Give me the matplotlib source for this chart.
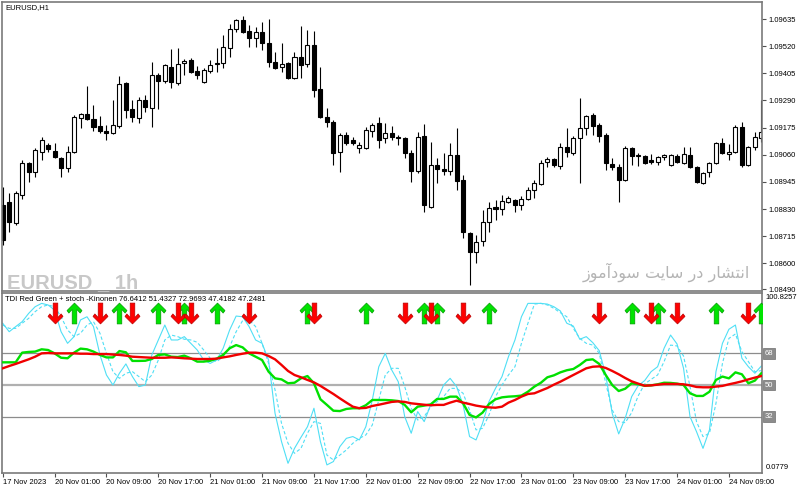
# plot.py - EURUSD H1 candles + TDI / stoch panel (MT4 style)

import matplotlib
matplotlib.use("Agg")
import numpy as np
import matplotlib.pyplot as plt
from matplotlib.path import Path


plt.rcParams["font.family"] = ["Liberation Sans", "DejaVu Sans"]


# =====================================
# DATA
# =====================================

open_px = [
    1.08847, 1.08860, 1.08771, 1.08889, 1.09025, 1.08987, 1.09071, 1.09101, 1.09076, 1.09046,
    1.09004, 1.09071, 1.09216, 1.09232, 1.09211, 1.09182, 1.09160, 1.09152, 1.09182, 1.09364,
    1.09254, 1.09216, 1.09292, 1.09258, 1.09398, 1.09372, 1.09432, 1.09364, 1.09449, 1.09461,
    1.09415, 1.09368, 1.09415, 1.09444, 1.09449, 1.09512, 1.09593, 1.09631, 1.09584, 1.09555,
    1.09580, 1.09533, 1.09453, 1.09432, 1.09449, 1.09385, 1.09474, 1.09444, 1.09525, 1.09338,
    1.09220, 1.09199, 1.09071, 1.09143, 1.09122, 1.09088, 1.09088, 1.09160, 1.09194, 1.09131,
    1.09152, 1.09135, 1.09131, 1.09067, 1.08991, 1.09139, 1.08838, 1.09016, 1.09000, 1.08991,
    1.09059, 1.08953, 1.08728, 1.08648, 1.08694, 1.08775, 1.08838, 1.08830, 1.08860, 1.08868,
    1.08847, 1.08872, 1.08910, 1.08936, 1.09029, 1.09042, 1.09012, 1.09093, 1.09067, 1.09131,
    1.09173, 1.09228, 1.09186, 1.09143, 1.09021, 1.09008, 1.08953, 1.09088, 1.09055, 1.09055,
    1.09038, 1.09029, 1.09050, 1.09016, 1.09055, 1.09025, 1.09059, 1.09008, 1.08940, 1.08987,
    1.09025, 1.09110, 1.09063, 1.09071, 1.09177, 1.09016, 1.09093, 1.09131,
]

high_px = [
    1.08923, 1.08898, 1.08906, 1.09038, 1.09029, 1.09088, 1.09135, 1.09110, 1.09110, 1.09050,
    1.09097, 1.09228, 1.09237, 1.09351, 1.09271, 1.09224, 1.09186, 1.09292, 1.09393, 1.09368,
    1.09292, 1.09305, 1.09313, 1.09453, 1.09406, 1.09444, 1.09508, 1.09512, 1.09465, 1.09470,
    1.09436, 1.09427, 1.09461, 1.09512, 1.09567, 1.09614, 1.09635, 1.09648, 1.09610, 1.09601,
    1.09622, 1.09635, 1.09495, 1.09533, 1.09453, 1.09495, 1.09605, 1.09588, 1.09584, 1.09432,
    1.09258, 1.09207, 1.09152, 1.09156, 1.09135, 1.09114, 1.09177, 1.09194, 1.09220, 1.09194,
    1.09182, 1.09143, 1.09135, 1.09080, 1.09156, 1.09190, 1.09114, 1.09046, 1.09067, 1.09110,
    1.09173, 1.08974, 1.08733, 1.08720, 1.08826, 1.08860, 1.08868, 1.08889, 1.08885, 1.08872,
    1.08885, 1.08923, 1.08953, 1.09038, 1.09050, 1.09046, 1.09110, 1.09173, 1.09139, 1.09300,
    1.09228, 1.09237, 1.09194, 1.09152, 1.09046, 1.09021, 1.09097, 1.09093, 1.09067, 1.09059,
    1.09063, 1.09055, 1.09063, 1.09063, 1.09063, 1.09093, 1.09093, 1.09012, 1.08987, 1.09029,
    1.09114, 1.09131, 1.09105, 1.09186, 1.09199, 1.09097, 1.09156, 1.09292,
]

low_px = [
    1.08677, 1.08733, 1.08762, 1.08872, 1.08944, 1.08965, 1.09038, 1.09071, 1.09046, 1.08965,
    1.08987, 1.09067, 1.09173, 1.09207, 1.09160, 1.09152, 1.09122, 1.09148, 1.09173, 1.09216,
    1.09199, 1.09194, 1.09241, 1.09177, 1.09254, 1.09364, 1.09343, 1.09355, 1.09398, 1.09406,
    1.09381, 1.09364, 1.09406, 1.09410, 1.09427, 1.09474, 1.09580, 1.09576, 1.09516, 1.09516,
    1.09504, 1.09432, 1.09423, 1.09410, 1.09381, 1.09381, 1.09385, 1.09432, 1.09305, 1.09216,
    1.09177, 1.09016, 1.08987, 1.09101, 1.09101, 1.09067, 1.09084, 1.09135, 1.09088, 1.09110,
    1.09122, 1.09101, 1.09046, 1.08944, 1.08982, 1.08817, 1.08834, 1.08940, 1.08974, 1.08974,
    1.08910, 1.08707, 1.08508, 1.08601, 1.08673, 1.08733, 1.08783, 1.08805, 1.08855, 1.08817,
    1.08826, 1.08868, 1.08877, 1.08932, 1.09008, 1.09008, 1.09000, 1.09050, 1.09059, 1.08940,
    1.09143, 1.09143, 1.09114, 1.08995, 1.08995, 1.08860, 1.08949, 1.09016, 1.09012, 1.09021,
    1.09021, 1.09016, 1.09038, 1.09012, 1.09025, 1.09021, 1.09004, 1.08940, 1.08936, 1.08965,
    1.09021, 1.09063, 1.09038, 1.09067, 1.09008, 1.09012, 1.09080, 1.09114,
]

close_px = [
    1.08699, 1.08775, 1.08898, 1.09025, 1.08987, 1.09080, 1.09122, 1.09084, 1.09050, 1.09004,
    1.09071, 1.09220, 1.09232, 1.09211, 1.09177, 1.09160, 1.09152, 1.09186, 1.09360, 1.09249,
    1.09220, 1.09292, 1.09262, 1.09398, 1.09372, 1.09440, 1.09368, 1.09444, 1.09457, 1.09410,
    1.09398, 1.09419, 1.09440, 1.09449, 1.09516, 1.09593, 1.09631, 1.09580, 1.09555, 1.09580,
    1.09533, 1.09453, 1.09427, 1.09444, 1.09385, 1.09474, 1.09440, 1.09525, 1.09334, 1.09220,
    1.09199, 1.09067, 1.09143, 1.09110, 1.09110, 1.09101, 1.09165, 1.09186, 1.09122, 1.09152,
    1.09135, 1.09131, 1.09067, 1.08991, 1.09135, 1.08847, 1.09016, 1.09000, 1.08991, 1.09059,
    1.08949, 1.08733, 1.08648, 1.08690, 1.08775, 1.08834, 1.08830, 1.08864, 1.08877, 1.08847,
    1.08872, 1.08910, 1.08940, 1.09025, 1.09042, 1.09016, 1.09093, 1.09071, 1.09131, 1.09173,
    1.09224, 1.09182, 1.09139, 1.09025, 1.09008, 1.08953, 1.09088, 1.09055, 1.09059, 1.09025,
    1.09029, 1.09050, 1.09059, 1.09059, 1.09029, 1.09063, 1.09008, 1.08944, 1.08982, 1.09025,
    1.09110, 1.09067, 1.09071, 1.09177, 1.09016, 1.09093, 1.09135, 1.09156,
]

# TDI green (price line) and red (signal line)
tdi_green = [
    62.9, 62.9, 62.9, 68.4, 68.8, 69.0, 70.3, 69.9, 68.0, 65.5,
    65.2, 68.4, 70.7, 70.3, 69.0, 67.1, 65.7, 65.7, 69.3, 68.6,
    63.7, 63.7, 63.8, 64.8, 67.1, 67.4, 66.1, 65.9, 66.7, 65.2,
    63.3, 63.3, 63.8, 65.0, 67.1, 70.9, 72.7, 71.4, 68.0, 66.1,
    64.2, 57.6, 53.8, 53.2, 51.0, 51.3, 53.8, 55.1, 51.0, 41.9,
    38.7, 35.4, 35.2, 36.4, 36.8, 36.8, 38.5, 41.5, 41.5, 41.5,
    41.3, 40.9, 38.7, 34.5, 37.7, 38.3, 39.0, 42.1, 42.1, 43.4,
    43.4, 39.6, 33.0, 31.6, 34.3, 39.2, 41.9, 43.0, 43.4, 43.6,
    44.0, 46.2, 49.1, 51.3, 54.4, 55.5, 57.2, 58.4, 59.1, 61.4,
    64.2, 64.6, 62.0, 55.7, 50.0, 46.6, 47.9, 51.0, 50.4, 49.6,
    49.8, 50.4, 51.3, 51.2, 50.8, 50.0, 45.3, 43.8, 43.8, 46.2,
    52.9, 54.8, 53.8, 57.2, 56.1, 51.0, 52.5, 56.7,
]

tdi_red = [
    59.5, 60.8, 62.0, 63.3, 64.6, 66.1, 68.0, 68.2, 68.0, 68.0,
    68.0, 68.0, 67.8, 67.8, 67.6, 67.6, 67.6, 67.3, 67.1, 66.7,
    66.1, 65.9, 65.7, 65.5, 65.5, 65.5, 65.7, 65.5, 65.2, 65.0,
    64.8, 64.8, 64.8, 65.0, 65.7, 66.3, 67.1, 67.8, 68.4, 68.4,
    68.0, 66.5, 64.6, 61.4, 58.0, 55.7, 54.4, 52.9, 51.5, 49.5,
    47.2, 44.9, 42.4, 40.0, 37.7, 36.8, 37.0, 38.1, 38.8, 39.6,
    40.4, 40.7, 40.4, 39.6, 39.2, 38.8, 38.5, 38.7, 38.7, 40.0,
    41.1, 40.0, 39.2, 38.3, 37.7, 37.3, 37.1, 37.7, 40.0, 41.5,
    43.4, 44.9, 45.3, 46.8, 48.3, 50.2, 51.9, 53.8, 55.7, 57.6,
    59.5, 60.4, 60.6, 59.7, 58.0, 56.1, 54.0, 52.1, 50.8, 49.6,
    49.8, 50.2, 50.6, 50.6, 50.6, 50.4, 49.8, 48.9, 48.7, 48.7,
    49.1, 49.5, 50.4, 51.2, 52.1, 53.2, 54.2, 55.1,
]

# stochastic main (solid) and signal (dashed)
stoch_main = [
    85.1, 80.3, 83.2, 86.0, 90.7, 94.5, 96.4, 95.5, 92.6, 80.3,
    73.7, 77.5, 87.0, 88.8, 83.2, 67.1, 55.7, 50.0, 56.7, 62.0,
    54.8, 49.1, 50.0, 67.1, 75.6, 84.1, 75.6, 75.6, 77.5, 73.7,
    69.9, 64.2, 62.3, 64.2, 70.9, 81.3, 89.2, 88.8, 83.2, 75.6,
    73.7, 64.2, 33.9, 17.8, 5.5, 14.0, 20.3, 26.3, 36.8, 17.8,
    4.6, 6.5, 15.0, 19.7, 20.7, 18.8, 26.3, 41.5, 60.4, 68.0,
    58.5, 51.9, 32.0, 22.6, 34.9, 29.2, 38.7, 41.5, 50.0, 53.8,
    49.1, 38.7, 20.7, 18.8, 28.2, 40.6, 48.1, 54.8, 66.1, 75.6,
    88.8, 96.4, 96.4, 96.4, 96.0, 94.5, 92.1, 85.1, 83.5, 76.0,
    77.5, 74.1, 69.5, 55.7, 33.9, 22.2, 31.1, 43.4, 49.6, 52.5,
    57.6, 60.4, 70.9, 78.4, 73.3, 59.5, 32.0, 23.5, 14.0, 24.5,
    57.6, 73.7, 81.7, 84.1, 65.2, 60.4, 56.7, 60.8,
]

stoch_signal = [
    84.1, 82.2, 82.2, 85.1, 87.9, 91.7, 94.5, 95.5, 94.5, 88.8,
    81.3, 77.5, 79.4, 84.1, 86.0, 79.4, 68.0, 57.6, 53.8, 56.7,
    57.6, 54.8, 51.9, 55.7, 64.2, 75.6, 78.4, 77.5, 76.0, 75.6,
    74.3, 69.9, 65.2, 63.3, 66.1, 71.8, 80.3, 86.6, 87.0, 83.2,
    73.7, 62.3, 47.2, 28.2, 16.9, 11.2, 14.0, 22.6, 29.2, 28.2,
    10.2, 7.4, 10.2, 13.1, 16.9, 19.7, 21.6, 27.3, 41.5, 55.7,
    59.5, 59.5, 49.1, 36.8, 30.1, 32.0, 37.7, 40.6, 43.4, 48.1,
    48.1, 45.3, 35.8, 24.5, 25.4, 33.0, 43.4, 50.0, 55.7, 60.4,
    73.7, 85.1, 96.0, 96.4, 95.5, 93.6, 91.1, 88.8, 82.2, 76.5,
    73.7, 72.7, 68.0, 51.0, 35.8, 29.2, 28.6, 34.3, 43.8, 50.6,
    53.2, 55.7, 63.3, 72.7, 72.2, 66.5, 49.1, 29.2, 20.7, 22.6,
    39.6, 62.3, 76.5, 79.0, 69.0, 63.3, 57.6, 58.2,
]

# bars carrying a signal arrow
buy_bars = [11, 18, 24, 28, 33, 47, 56, 65, 67, 75, 97, 101, 110, 117]
sell_bars = [8, 15, 20, 27, 29, 38, 48, 62, 66, 71, 92, 100, 104, 115]

price_ticks = [1.09635, 1.09520, 1.09405, 1.09290, 1.09175, 1.09060,
               1.08945, 1.08830, 1.08715, 1.08600, 1.08490]

levels = [68, 50, 32]
ind_min = 0.0779
ind_max = 100.8257

time_labels = [
    "17 Nov 2023", "20 Nov 01:00", "20 Nov 09:00", "20 Nov 17:00",
    "21 Nov 01:00", "21 Nov 09:00", "21 Nov 17:00", "22 Nov 01:00",
    "22 Nov 09:00", "22 Nov 17:00", "23 Nov 01:00", "23 Nov 09:00",
    "23 Nov 17:00", "24 Nov 01:00", "24 Nov 09:00",
]
bars_per_label = 8

indicator_title = ("TDI Red Green + stoch -Kinonen 76.6412 51.4327 "
                   "72.9693 47.4182 47.2481")

# "انتشار در سایت سودآموز" written with Arabic presentation forms in visual
# order, since matplotlib does no bidi / shaping on its own
persian_note = ("\uFEAF\uFEEE\uFEE3\uFE81\uFEA9\uFEEE\uFEB3 "
                "\uFE96\uFBFE\uFE8E\uFEB3 "
                "\uFEAD\uFEA9 "
                "\uFEAD\uFE8E\uFEB8\uFE98\uFEE7\uFE8D")


# =====================================
# Figure / axes layout (pixel based)
# =====================================

W, H = 800, 490

fig = plt.figure(figsize=(W / 100, H / 100), dpi=100)
fig.patch.set_facecolor("white")


def fx(px):
    return px / W


def fy(py):
    return 1 - py / H


ax = fig.add_axes([fx(2), fy(291), fx(762) - fx(2), fy(2) - fy(291)])
ax2 = fig.add_axes([fx(2), fy(473), fx(762) - fx(2), fy(293) - fy(473)])

frame_col = "#7a7a7a"

for a in (ax, ax2):
    for s in a.spines.values():
        s.set_color(frame_col)
        s.set_linewidth(1.2)

n = len(open_px)
x = np.arange(n)
xlim = (-0.11, n - 0.9)


# =====================================
# Candles
# =====================================

o = np.array(open_px)
h = np.array(high_px)
l = np.array(low_px)
c = np.array(close_px)

bull = c >= o

ax.vlines(x, l, h, color="black", linewidth=0.8, zorder=1)

ax.bar(
    x,
    np.abs(c - o),
    bottom=np.minimum(o, c),
    width=0.62,
    color=np.where(bull, "white", "black"),
    edgecolor="black",
    linewidth=0.8,
    zorder=2,
)

ax.set_xlim(xlim)
ax.set_ylim(1.08483, 1.09707)
ax.set_xticks([])

ax.yaxis.tick_right()
ax.set_yticks(price_ticks)
ax.set_yticklabels([f"{p:.5f}" for p in price_ticks])
ax.tick_params(
    axis="y", labelsize=5.5, length=3, width=0.8, pad=1.5,
    color="#505050", labelcolor="black"
)

fig.text(fx(5), fy(8), "EURUSD,H1", fontsize=5.5, va="center", ha="left")

# watermarks
fig.text(
    fx(7), fy(288), "EURUSD _ 1h",
    fontsize=14.5, fontweight="bold", color="#c8c8c8",
    family=["Liberation Sans", "DejaVu Sans"],
    va="baseline", ha="left"
)

fig.text(
    fx(750), fy(272), persian_note,
    fontsize=11.5, color="#b4b4b4", family=["DejaVu Sans"],
    va="center", ha="right"
)


# =====================================
# Indicator panel
# =====================================

ax2.set_xlim(xlim)
ax2.set_ylim(0.0, 102.3)

for lv in levels:
    ax2.axhline(
        lv,
        color="#b0b0b0" if lv == 50 else "#8c8c8c",
        linewidth=1.6 if lv == 50 else 0.9,
        zorder=1,
    )

cyan = "#4fdff5"

ax2.plot(x, stoch_main, color=cyan, linewidth=0.8, zorder=2)
ax2.plot(x, stoch_signal, color=cyan, linewidth=0.8,
         linestyle=(0, (3, 2)), zorder=2)

ax2.plot(x, tdi_green, color="#00e000", linewidth=1.7, zorder=3)
ax2.plot(x, tdi_red, color="#f00000", linewidth=1.7, zorder=4)

# arrows
down_verts = [
    (-0.11, 0.5), (0.11, 0.5), (0.11, -0.2), (0.27, -0.02), (0.36, -0.14),
    (0.0, -0.5), (-0.36, -0.14), (-0.27, -0.02), (-0.11, -0.2), (-0.11, 0.5),
]
sell_marker = Path(down_verts, closed=True)
buy_marker = Path([(vx, -vy) for vx, vy in down_verts], closed=True)

arrow_level = 91.2

ax2.plot(
    buy_bars, [arrow_level] * len(buy_bars),
    linestyle="none", marker=buy_marker, markersize=15,
    color="#00e400", markeredgecolor="#009a00", markeredgewidth=0.5,
    zorder=6
)
ax2.plot(
    sell_bars, [arrow_level] * len(sell_bars),
    linestyle="none", marker=sell_marker, markersize=15,
    color="#ff0000", markeredgecolor="#b80000", markeredgewidth=0.5,
    zorder=6
)

ax2.text(0.004, 0.985, indicator_title, transform=ax2.transAxes,
         fontsize=5.5, va="top", ha="left", zorder=7)

# right scale labels
ax2.set_yticks([])
ax2.text(1.005, 0.995, f"{ind_max:.4f}", transform=ax2.transAxes,
         fontsize=5.5, va="top", ha="left")
ax2.text(1.005, 0.012, f"{ind_min:.4f}", transform=ax2.transAxes,
         fontsize=5.5, va="bottom", ha="left")

for lv in levels:
    ax2.text(
        1.004, lv, str(lv),
        transform=ax2.get_yaxis_transform(),
        fontsize=5.5, color="white", va="center", ha="left",
        bbox=dict(boxstyle="square,pad=0.25", fc="#8c8c8c",
                  ec="#6e6e6e", lw=0.5),
    )

# time axis
ax2.set_xticks([k * bars_per_label for k in range(len(time_labels))])
ax2.set_xticklabels(time_labels, ha="left")
ax2.tick_params(axis="x", labelsize=5.5, length=3, width=0.8, pad=1.5,
                color="#505050")


# =====================================
# Save
# =====================================

out = "out.png"

fig.savefig(out, dpi=100)

print(f"Saved: {out}")
